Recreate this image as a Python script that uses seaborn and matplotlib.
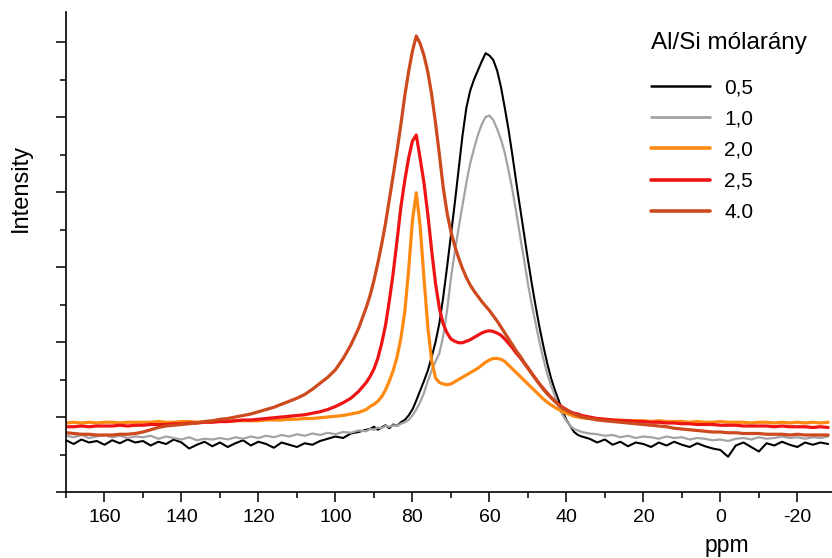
import numpy as np
import pandas as pd
import matplotlib
matplotlib.use("Agg")
import matplotlib.pyplot as plt
from matplotlib.ticker import MultipleLocator, NullFormatter
import seaborn as sns

# chemical shift grid (ppm): coarse on the baselines, 1 ppm across the peaks
ppm = np.concatenate([np.arange(170, 91, -2), np.arange(91, 36, -1), np.arange(36, -29, -2)])

ratios = ["0,5", "1,0", "2,0", "2,5", "4.0"]
colors = ["#000000", "#a3a3a3", "#ff8a12", "#ee1414", "#cc4a1e"]
widths = [1.5, 1.6, 2.3, 2.3, 2.3]

int_05 = [
    0.69, 0.64, 0.70, 0.66, 0.68, 0.63, 0.69, 0.65, 0.70, 0.66,
    0.68, 0.62, 0.67, 0.64, 0.70, 0.66, 0.58, 0.63, 0.67, 0.61,
    0.66, 0.60, 0.65, 0.69, 0.62, 0.67, 0.64, 0.59, 0.66, 0.63,
    0.60, 0.65, 0.63, 0.68, 0.71, 0.74, 0.72, 0.78, 0.80, 0.83,
    0.84, 0.87, 0.83, 0.86, 0.89, 0.85, 0.90, 0.88, 0.93, 0.96,
    1.02, 1.10, 1.22, 1.35, 1.48, 1.62, 1.80, 2.00, 2.25, 2.60,
    3.00, 3.42, 3.85, 4.30, 4.75, 5.12, 5.35, 5.50, 5.62, 5.74,
    5.85, 5.82, 5.76, 5.62, 5.40, 5.12, 4.82, 4.48, 4.12, 3.78,
    3.44, 3.10, 2.78, 2.48, 2.20, 1.95, 1.72, 1.52, 1.36, 1.22,
    1.08, 0.96, 0.88, 0.80, 0.76,
    0.74, 0.71, 0.66, 0.70, 0.63, 0.67, 0.61, 0.66, 0.64, 0.60,
    0.66, 0.62, 0.67, 0.63, 0.60, 0.65, 0.61, 0.58, 0.56, 0.47,
    0.62, 0.66, 0.60, 0.54, 0.65, 0.62, 0.67, 0.63, 0.60, 0.66,
    0.63, 0.66, 0.64,
]
int_10 = [
    0.75, 0.73, 0.76, 0.72, 0.74, 0.76, 0.73, 0.75, 0.72, 0.74,
    0.73, 0.75, 0.71, 0.74, 0.72, 0.70, 0.73, 0.69, 0.71, 0.70,
    0.72, 0.70, 0.73, 0.71, 0.74, 0.72, 0.75, 0.73, 0.76, 0.74,
    0.77, 0.75, 0.78, 0.76, 0.79, 0.77, 0.80, 0.79, 0.82, 0.81,
    0.84, 0.83, 0.86, 0.85, 0.88, 0.87, 0.89, 0.88, 0.91, 0.93,
    0.96, 1.02, 1.10, 1.20, 1.32, 1.48, 1.62, 1.74, 1.85, 2.08,
    2.42, 2.85, 3.20, 3.52, 3.82, 4.12, 4.38, 4.58, 4.76, 4.90,
    5.00, 5.02, 4.96, 4.84, 4.70, 4.52, 4.28, 4.02, 3.72, 3.40,
    3.10, 2.78, 2.50, 2.25, 2.00, 1.78, 1.58, 1.42, 1.28, 1.14,
    1.03, 0.95, 0.88, 0.84, 0.82,
    0.80, 0.78, 0.77, 0.75, 0.76, 0.73, 0.75, 0.72, 0.74, 0.73,
    0.71, 0.74, 0.72, 0.73, 0.70, 0.72, 0.71, 0.69, 0.70, 0.68,
    0.71, 0.72, 0.70, 0.73, 0.71, 0.72, 0.74, 0.72, 0.73, 0.71,
    0.73, 0.72, 0.74,
]
int_20 = [
    0.92, 0.93, 0.92, 0.93, 0.92, 0.93, 0.93, 0.92, 0.93, 0.93,
    0.93, 0.93, 0.94, 0.93, 0.93, 0.94, 0.94, 0.93, 0.94, 0.94,
    0.94, 0.94, 0.95, 0.95, 0.95, 0.95, 0.96, 0.96, 0.96, 0.97,
    0.97, 0.98, 0.98, 0.99, 1.00, 1.01, 1.02, 1.04, 1.06, 1.10,
    1.14, 1.17, 1.21, 1.27, 1.36, 1.48, 1.62, 1.80, 2.05, 2.40,
    2.95, 3.62, 3.99, 3.55, 2.85, 2.20, 1.75, 1.52, 1.46, 1.44,
    1.43, 1.44, 1.47, 1.50, 1.53, 1.56, 1.59, 1.62, 1.65, 1.69,
    1.73, 1.76, 1.78, 1.78, 1.77, 1.74, 1.69, 1.64, 1.59, 1.54,
    1.49, 1.44, 1.39, 1.34, 1.29, 1.24, 1.20, 1.16, 1.13, 1.10,
    1.07, 1.05, 1.03, 1.01, 1.00,
    0.99, 0.98, 0.97, 0.97, 0.96, 0.96, 0.95, 0.95, 0.95, 0.94,
    0.95, 0.94, 0.94, 0.94, 0.93, 0.94, 0.93, 0.93, 0.94, 0.93,
    0.93, 0.93, 0.92, 0.93, 0.93, 0.92, 0.93, 0.92, 0.93, 0.92,
    0.93, 0.92, 0.93,
]
int_25 = [
    0.87, 0.87, 0.88, 0.87, 0.88, 0.88, 0.88, 0.89, 0.88, 0.89,
    0.89, 0.90, 0.90, 0.90, 0.91, 0.91, 0.92, 0.92, 0.93, 0.93,
    0.94, 0.94, 0.95, 0.96, 0.96, 0.97, 0.98, 0.99, 1.00, 1.01,
    1.02, 1.03, 1.05, 1.07, 1.10, 1.14, 1.19, 1.25, 1.34, 1.46,
    1.54, 1.64, 1.78, 1.98, 2.22, 2.55, 2.92, 3.35, 3.80, 4.15,
    4.45, 4.68, 4.76, 4.45, 4.12, 3.70, 3.22, 2.78, 2.45, 2.24,
    2.12, 2.04, 2.01, 1.99, 1.99, 2.01, 2.03, 2.06, 2.09, 2.12,
    2.14, 2.15, 2.14, 2.12, 2.09, 2.04, 1.98, 1.92, 1.85, 1.79,
    1.72, 1.65, 1.58, 1.51, 1.44, 1.38, 1.32, 1.26, 1.21, 1.17,
    1.13, 1.10, 1.07, 1.05, 1.04,
    1.02, 1.00, 0.98, 0.97, 0.96, 0.95, 0.95, 0.94, 0.94, 0.93,
    0.93, 0.92, 0.92, 0.91, 0.91, 0.90, 0.90, 0.90, 0.89, 0.89,
    0.89, 0.88, 0.88, 0.88, 0.88, 0.87, 0.88, 0.87, 0.87, 0.87,
    0.86, 0.87, 0.86,
]
int_40 = [
    0.79, 0.78, 0.77, 0.77, 0.76, 0.76, 0.76, 0.77, 0.77, 0.78,
    0.80, 0.83, 0.86, 0.88, 0.89, 0.90, 0.91, 0.92, 0.94, 0.95,
    0.97, 0.98, 1.00, 1.02, 1.04, 1.07, 1.10, 1.13, 1.17, 1.21,
    1.25, 1.30, 1.37, 1.45, 1.53, 1.63, 1.78, 1.96, 2.18, 2.46,
    2.62, 2.82, 3.05, 3.30, 3.58, 3.90, 4.22, 4.55, 4.90, 5.28,
    5.60, 5.88, 6.08, 5.98, 5.82, 5.60, 5.30, 4.92, 4.50, 4.06,
    3.72, 3.47, 3.28, 3.12, 2.98, 2.86, 2.76, 2.68, 2.61, 2.54,
    2.48, 2.42, 2.35, 2.28, 2.20, 2.12, 2.04, 1.96, 1.88, 1.81,
    1.73, 1.66, 1.58, 1.51, 1.44, 1.37, 1.31, 1.26, 1.21, 1.16,
    1.12, 1.09, 1.06, 1.04, 1.02,
    1.00, 0.98, 0.96, 0.95, 0.94, 0.93, 0.92, 0.91, 0.90, 0.89,
    0.88, 0.87, 0.85, 0.84, 0.83, 0.82, 0.81, 0.80, 0.80, 0.79,
    0.79, 0.78, 0.78, 0.78, 0.77, 0.77, 0.77, 0.76, 0.77, 0.76,
    0.76, 0.76, 0.76,
]

series = [int_05, int_10, int_20, int_25, int_40]
df = pd.concat(
    [pd.DataFrame({"ppm": ppm, "Intensity": s, "ratio": r}) for r, s in zip(ratios, series)],
    ignore_index=True,
)

sns.set_style("ticks")
plt.rcParams["font.family"] = ["Liberation Sans", "DejaVu Sans"]
plt.rcParams["axes.unicode_minus"] = False
plt.rcParams.update({"text.color": "black", "axes.labelcolor": "black",
                     "xtick.color": "black", "ytick.color": "black"})

fig = plt.figure(figsize=(8.32, 5.58), dpi=100)
ax = fig.add_axes([66 / 832, 66 / 558, 766 / 832, 480 / 558])

for r, c, lw in zip(ratios, colors, widths):
    sns.lineplot(data=df[df["ratio"] == r], x="ppm", y="Intensity", color=c,
                 linewidth=lw, label=r, estimator=None, sort=False, ax=ax)

ax.set_xlim(170, -29)
ax.set_ylim(0, 6.4)
ax.xaxis.set_major_locator(MultipleLocator(20))
ax.xaxis.set_minor_locator(MultipleLocator(10))
ax.yaxis.set_major_locator(MultipleLocator(1))
ax.yaxis.set_minor_locator(MultipleLocator(0.5))
ax.yaxis.set_major_formatter(NullFormatter())
ax.tick_params(which="major", length=7.5, width=1.1, color="black", labelcolor="black",
               labelsize=14, pad=5)
ax.tick_params(which="minor", length=4, width=1.1, color="black")
sns.despine(ax=ax)
for side in ["left", "bottom"]:
    ax.spines[side].set_linewidth(1.2)
    ax.spines[side].set_color("black")

ax.set_xlabel("ppm", fontsize=16.5, color="black")
ax.xaxis.set_label_coords((727 - 66) / 766, -0.088)
ax.set_ylabel("Intensity", fontsize=17, color="black")
ax.yaxis.set_label_coords(-0.045, 0.633)

leg = ax.legend(title="Al/Si mólarány", loc="upper left", bbox_to_anchor=(641 / 832, 1 - 22 / 558),
                bbox_transform=fig.transFigure, frameon=False, fontsize=15, title_fontsize=17.5,
                handlelength=2.8, handletextpad=0.7, labelspacing=0.59, borderpad=0,
                alignment="left")
leg._legend_box.sep = 17  # extra gap between title and first entry
for t in leg.get_texts():
    t.set_color("black")
leg.get_title().set_color("black")
for h in leg.get_lines():
    h.set_linewidth(2.6)
leg.get_lines()[0].set_linewidth(1.8)
leg.get_lines()[1].set_linewidth(2.0)

fig.savefig("out.png", dpi=100)
